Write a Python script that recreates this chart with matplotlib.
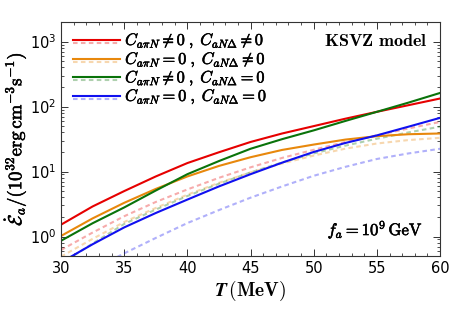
import numpy as np
import matplotlib
matplotlib.use("Agg")
import matplotlib.pyplot as plt
import matplotlib.patheffects as pe
from matplotlib.ticker import MultipleLocator, LogLocator, NullFormatter

plt.rcParams['mathtext.fontset'] = 'cm'
plt.rcParams['font.family'] = ['DejaVu Sans']

# temperatura [MeV]
T = [30, 32.5, 35, 37.5, 40, 42.5, 45, 47.5, 50, 52.5, 55, 57.5, 60]

# linie ciagle
red = [1.52, 2.9, 5.0, 8.4, 13.5, 19.8, 28.5, 38.5, 50, 65, 83, 105, 133]
orange = [1.02, 1.9, 3.3, 5.4, 8.4, 12.2, 16.6, 21.5, 26, 31, 35, 37.5, 38.5]
green = [0.86, 1.6, 2.8, 5.1, 9.1, 14.5, 22.4, 31.5, 43, 60, 83, 115, 162]
blue = [0.40, 0.76, 1.38, 2.3, 3.7, 5.9, 9.1, 13.7, 20, 27.5, 36, 49, 67]

# linie przerywane (jasne)
red_d = [0.62, 1.15, 2.05, 3.4, 5.3, 8.0, 11.6, 16.2, 21.6, 28.5, 36, 46, 58]
orange_d = [0.49, 0.92, 1.67, 2.75, 4.4, 6.7, 9.7, 13.3, 17.6, 22.5, 27, 30.5, 33]
green_d = [0.38, 0.78, 1.56, 2.6, 4.2, 6.5, 9.7, 13.8, 19, 25, 32, 40, 49]
blue_d = [0.17, 0.31, 0.55, 0.95, 1.61, 2.55, 3.96, 5.9, 8.6, 11.8, 15.6, 19, 22.4]

labels = [r'$C_{a\pi N}\neq0\;,\;C_{aN\mathbf{\Delta}}\neq0$',
          r'$C_{a\pi N}=0\;,\;C_{aN\mathbf{\Delta}}\neq0$',
          r'$C_{a\pi N}\neq0\;,\;C_{aN\mathbf{\Delta}}=0$',
          r'$C_{a\pi N}=0\;,\;C_{aN\mathbf{\Delta}}=0$']
colors = ['#e60000', '#e8880c', '#0a730a', '#1010f0']

bold = [pe.withStroke(linewidth=0.4, foreground='black')]

fig = plt.figure(figsize=(4.5, 3.1), dpi=100)
ax = fig.add_axes([0.1356, 0.174, 0.8424, 0.755])

solid = [red, orange, green, blue]
dashed = [red_d, orange_d, green_d, blue_d]

for ys, c in zip(dashed, colors):
    ax.plot(T, ys, color=c, lw=1.5, ls=(0, (2.2, 1.6)), alpha=0.33)
for ys, c in zip(solid, colors):
    ax.plot(T, ys, color=c, lw=1.5)

ax.set_yscale('log')
ax.set_xlim(30, 60)
ax.set_ylim(0.5, 2000)
ax.xaxis.set_major_locator(MultipleLocator(5))
ax.xaxis.set_minor_locator(MultipleLocator(1))
ax.yaxis.set_minor_locator(LogLocator(base=10, subs=np.arange(2, 10)))
ax.yaxis.set_minor_formatter(NullFormatter())

ax.tick_params(which='both', direction='in', top=True, right=True,
               color='#333333', labelsize=10.5)
ax.tick_params(which='major', length=5, width=0.7)
ax.tick_params(which='minor', length=2.5, width=0.6)
for s in ax.spines.values():
    s.set_color('#333333')
    s.set_linewidth(0.8)

ax.set_xlabel(r'$\boldsymbol{T}\,(\mathbf{MeV})$', fontsize=14, labelpad=2)
yl = ax.set_ylabel(r'$\dot{\mathcal{E}}_a/(10^{32}\mathrm{erg\,cm^{-3}s^{-1}})$',
                   fontsize=13.5, labelpad=1)
yl.set_path_effects(bold)

# legenda rysowana recznie: linia ciagla + jasna przerywana pod spodem
rows = [0.923, 0.842, 0.763, 0.684]
for yy, c, lab in zip(rows, colors, labels):
    ax.plot([0.032, 0.156], [yy, yy], color=c, lw=1.5, transform=ax.transAxes)
    ax.plot([0.032, 0.156], [yy - 0.012, yy - 0.012], color=c, lw=1.5,
            ls=(0, (2.2, 1.6)), alpha=0.33, transform=ax.transAxes)
    t = ax.text(0.169, yy - 0.004, lab, transform=ax.transAxes, fontsize=11.8,
                va='center', ha='left')
    t.set_path_effects(bold)

ax.text(0.968, 0.918, r'$\mathbf{KSVZ\ model}$', transform=ax.transAxes,
        fontsize=13, ha='right', va='center')
ft = ax.text(0.955, 0.115, r'$f_a=10^9\,\mathrm{GeV}$', transform=ax.transAxes,
             fontsize=12, ha='right', va='center')
ft.set_path_effects(bold)

fig.savefig('out.png', dpi=100)
